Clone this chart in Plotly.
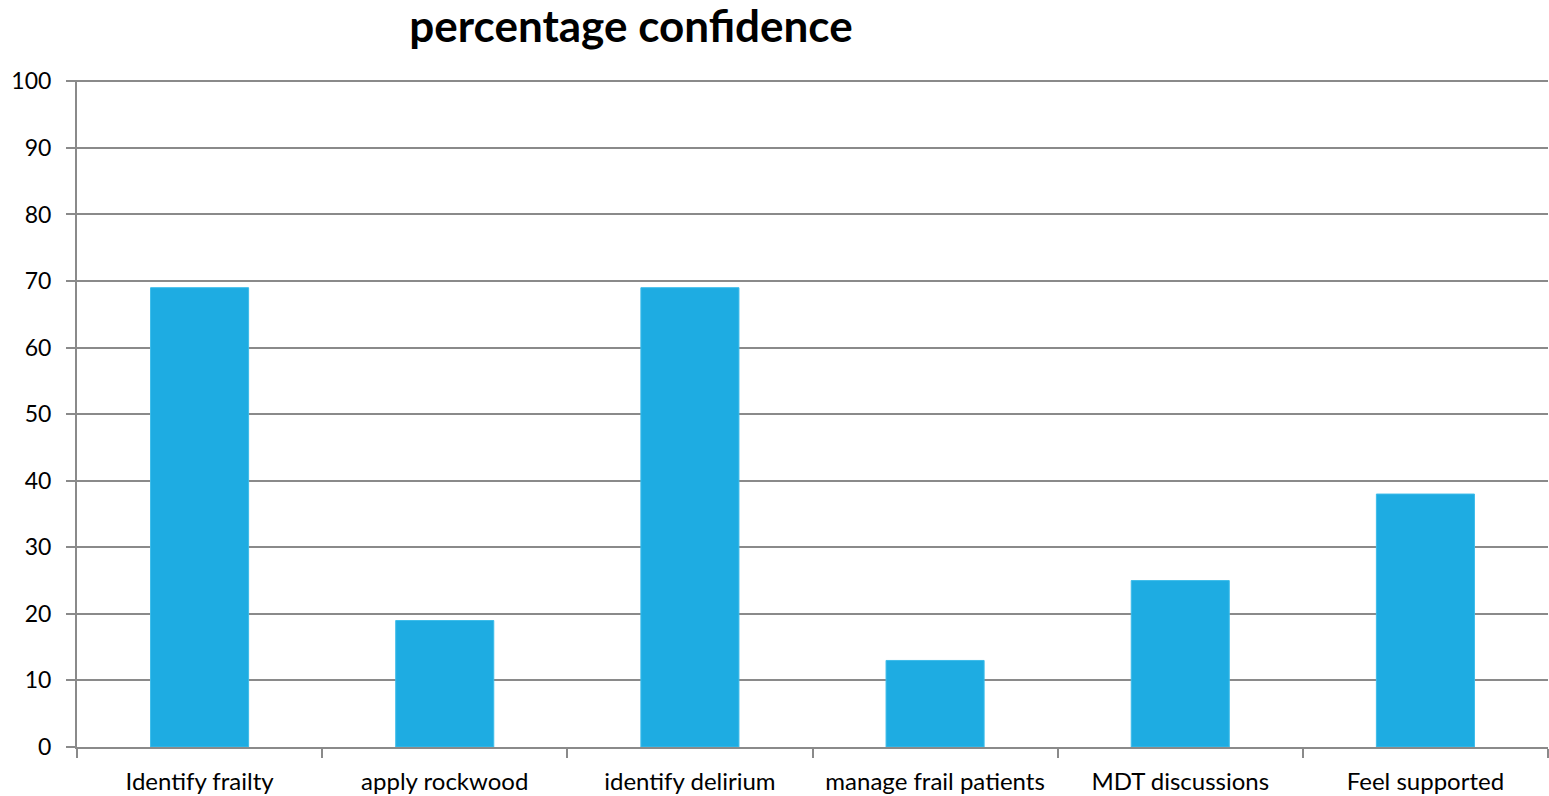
import plotly.graph_objects as go

categories = ["Identify frailty", "apply rockwood", "identify delirium",
              "manage frail patients", "MDT discussions", "Feel supported"]
confidence = [69, 19, 69, 13, 25, 38]
y_ticks = [0, 10, 20, 30, 40, 50, 60, 70, 80, 90, 100]

grid_col = "#8a8a8a"
font_family = "Lato, 'Open Sans', sans-serif"

fig = go.Figure(go.Bar(
    x=categories,
    y=confidence,
    marker=dict(color="#1eace2", line=dict(color="#3cbcea", width=1)),
))

fig.update_layout(
    width=1549, height=796,
    margin=dict(l=77, r=1, t=80, b=49),
    paper_bgcolor="white", plot_bgcolor="white",
    bargap=0.6,
    showlegend=False,
    font=dict(family=font_family, color="black", size=22),
    title=dict(text="<b>percentage confidence</b>", x=631 / 1549, xref="container",
               xanchor="center", y=1 - 27 / 796, yref="container", yanchor="middle",
               font=dict(size=44, family=font_family, color="black")),
)

fig.update_xaxes(
    showline=True, linecolor=grid_col, linewidth=2,
    ticks="outside", tickson="boundaries", ticklen=9, tickcolor=grid_col, tickwidth=2,
    tickfont=dict(size=24), ticklabelstandoff=12, showgrid=False,
)
fig.update_yaxes(
    range=[0, 100.2], tickvals=y_ticks,
    showline=True, linecolor=grid_col, linewidth=2,
    ticks="outside", ticklen=9, tickcolor=grid_col, tickwidth=2,
    showgrid=True, gridcolor=grid_col, gridwidth=2,
    tickfont=dict(size=23), ticklabelstandoff=10, zeroline=False,
)

fig.write_html("out.html")
